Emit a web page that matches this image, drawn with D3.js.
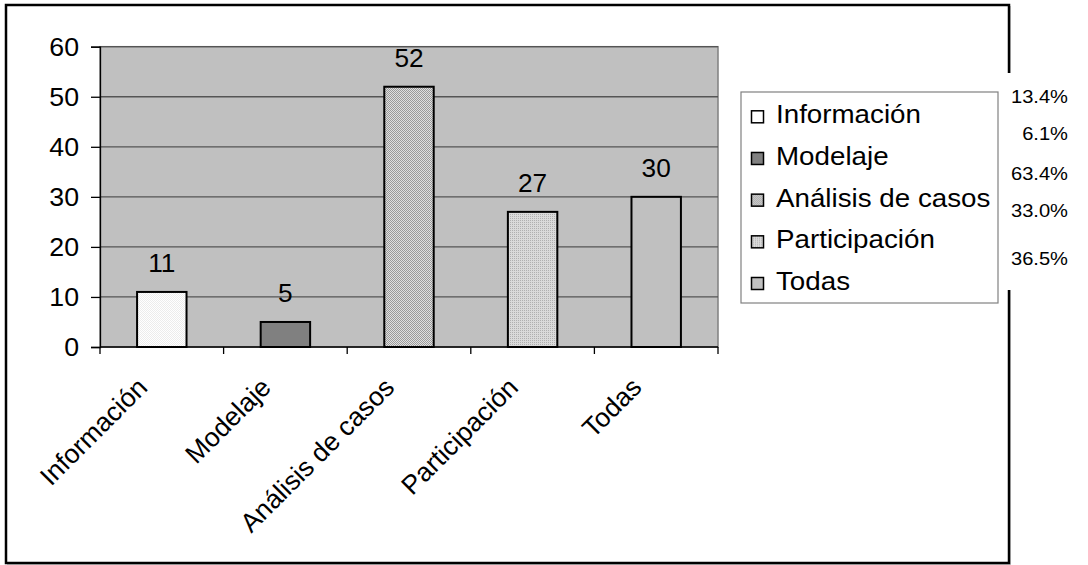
<!DOCTYPE html>
<html>
<head>
<meta charset="utf-8">
<script src="https://cdn.jsdelivr.net/npm/d3@7"></script>
<style>
  html, body { margin: 0; padding: 0; background: #ffffff; }
  svg { display: block; }
  text { font-family: "Liberation Sans", Arial, sans-serif; fill: #000; }
</style>
</head>
<body>
<svg id="chart" width="1088" height="565"></svg>
<script>
// ---- data ----
const categories = ["Información", "Modelaje", "Análisis de casos", "Participación", "Todas"];
const values = [11, 5, 52, 27, 30];
const percentLabels = ["13.4%", "6.1%", "63.4%", "33.0%", "36.5%"];
const yTicks = [0, 10, 20, 30, 40, 50, 60];
const fills = ["url(#pInfo)", "#808080", "url(#pAnal)", "url(#pPart)", "#c0c0c0"];

const svg = d3.select("#chart");
const defs = svg.append("defs");

function checker(id, a, b, dot) {
  const p = defs.append("pattern").attr("id", id).attr("width", 2).attr("height", 2)
    .attr("patternUnits", "userSpaceOnUse");
  p.append("rect").attr("width", 2).attr("height", 2).attr("fill", a);
  p.append("rect").attr("x", 0).attr("y", 0).attr("width", 1).attr("height", 1).attr("fill", b);
  if (dot) p.append("rect").attr("x", 1).attr("y", 1).attr("width", 1).attr("height", 1).attr("fill", b);
}
checker("pInfo", "#ffffff", "#ececec", true);
checker("pAnal", "#e0e0e0", "#9a9a9a", true);
checker("pPart", "#dadada", "#b0b0b0", false);

// stretched text helper: scale horizontally about anchor point (ax, ay)
const stretch = (ax, ay, s) => `translate(${ax},${ay}) scale(${s},1) translate(${-ax},${-ay})`;

// outer frame
svg.append("rect").attr("x", 7.5).attr("y", 6.5).attr("width", 1003).attr("height", 558)
  .attr("fill", "none").attr("stroke", "#c8c8c8").attr("stroke-width", 1);
svg.append("rect").attr("x", 6).attr("y", 5).attr("width", 1003).attr("height", 558)
  .attr("fill", "#ffffff").attr("stroke", "#000").attr("stroke-width", 2.5);

// plot area
const plot = { left: 100, right: 718, top: 46.7, bottom: 347 };
const x = d3.scaleBand().domain(categories).range([plot.left, plot.right]).paddingInner(0).paddingOuter(0);
const y = d3.scaleLinear().domain([0, 60]).range([plot.bottom, plot.top]);

svg.append("rect").attr("x", plot.left).attr("y", plot.top)
  .attr("width", plot.right - plot.left).attr("height", plot.bottom - plot.top)
  .attr("fill", "#c0c0c0").attr("stroke", "#808080").attr("stroke-width", 1.5);

// gridlines
svg.append("g").selectAll("line").data(yTicks.filter(d => d > 0)).join("line")
  .attr("x1", plot.left).attr("x2", plot.right)
  .attr("y1", d => y(d)).attr("y2", d => y(d))
  .attr("stroke", "#555").attr("stroke-width", 1.3);

// bars
const bw = x.bandwidth() * 0.4;
svg.append("g").selectAll("rect").data(values).join("rect")
  .attr("x", (d, i) => x(categories[i]) + x.bandwidth() / 2 - bw / 2)
  .attr("y", d => y(d))
  .attr("width", bw)
  .attr("height", d => y(0) - y(d))
  .attr("fill", (d, i) => fills[i])
  .attr("stroke", "#000").attr("stroke-width", 2);

// value labels
svg.append("g").selectAll("text").data(values).join("text")
  .attr("x", (d, i) => x(categories[i]) + x.bandwidth() / 2)
  .attr("y", d => y(d) - 20)
  .attr("transform", (d, i) => stretch(x(categories[i]) + x.bandwidth() / 2, y(d) - 20, 1.05))
  .attr("text-anchor", "middle")
  .style("font-size", "25px")
  .text(d => d);

// y axis
const yAxis = d3.axisLeft(y).tickValues(yTicks).tickSize(9).tickPadding(12).tickFormat(d3.format("d"));
const gy = svg.append("g").attr("transform", `translate(${plot.left},0)`).call(yAxis);
gy.select(".domain").attr("stroke", "#000").attr("stroke-width", 1.3);
gy.selectAll(".tick line").attr("stroke", "#000").attr("stroke-width", 1.3);
gy.selectAll(".tick text").style("font-size", "25px").style("font-family", "'Liberation Sans', Arial, sans-serif")
  .attr("dy", "0.35em").attr("fill", "#000")
  .attr("transform", "translate(-21,0) scale(1.07,1) translate(21,0)");

// x axis (ticks at band boundaries)
const boundaries = categories.map(c => x(c)).concat([plot.right]);
svg.append("line").attr("x1", plot.left).attr("x2", plot.right)
  .attr("y1", plot.bottom).attr("y2", plot.bottom).attr("stroke", "#000").attr("stroke-width", 1.5);
svg.append("g").selectAll("line").data(boundaries).join("line")
  .attr("x1", d => d).attr("x2", d => d)
  .attr("y1", plot.bottom).attr("y2", plot.bottom + 7)
  .attr("stroke", "#000").attr("stroke-width", 1.3);

svg.append("g").selectAll("text").data(categories).join("text")
  .attr("transform", d => `translate(${x(d) + x.bandwidth() / 2 - 13},${plot.bottom + 42}) rotate(-45)`)
  .attr("text-anchor", "end")
  .style("font-size", "26.5px")
  .text(d => d);

// legend
const lg = { left: 741, top: 92, right: 998, bottom: 303 };
svg.append("rect").attr("x", lg.left).attr("y", lg.top)
  .attr("width", lg.right - lg.left).attr("height", lg.bottom - lg.top)
  .attr("fill", "#fff").attr("stroke", "#808080").attr("stroke-width", 1.2);
const rowY = d3.scalePoint().domain(categories).range([123.3, 290]);
const legendFills = ["#ffffff", "#808080", "url(#pAnal)", "url(#pPart)", "#c0c0c0"];
const lrows = svg.append("g").selectAll("g").data(categories).join("g")
  .attr("transform", d => `translate(${lg.left},${rowY(d)})`);
lrows.append("rect").attr("x", 10.5).attr("y", -12.5).attr("width", 12).attr("height", 12)
  .attr("fill", (d, i) => legendFills[i]).attr("stroke", "#000").attr("stroke-width", 1.5);
lrows.append("text").attr("x", 35).attr("y", 0)
  .attr("transform", "translate(35,0) scale(1.11,1) translate(-35,0)")
  .style("font-size", "25px").text(d => d);

// percentage text box (covers frame & legend edge)
svg.append("rect").attr("x", 999).attr("y", 73).attr("width", 89).attr("height", 217).attr("fill", "#fff");
const pctY = [103.3, 140, 180, 216.7, 265];
svg.append("g").selectAll("text").data(percentLabels).join("text")
  .attr("x", 1068).attr("y", (d, i) => pctY[i])
  .attr("text-anchor", "end")
  .style("font-size", "17.5px")
  .attr("transform", (d, i) => stretch(1068, pctY[i], 1.15))
  .text(d => d);
</script>
</body>
</html>
